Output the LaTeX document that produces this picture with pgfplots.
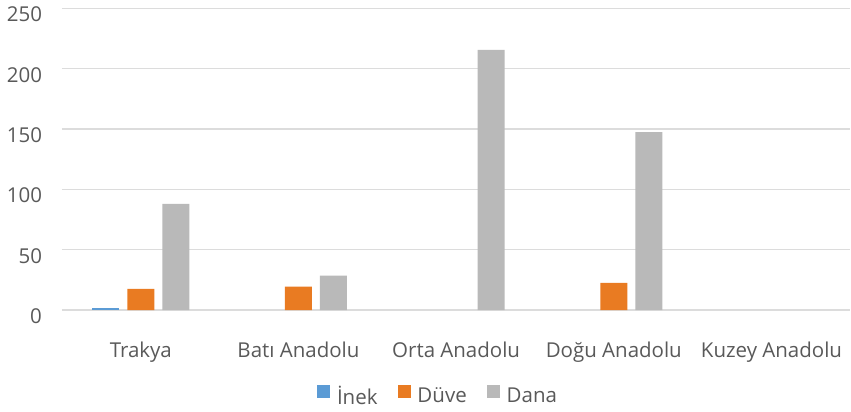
\documentclass[border=0pt]{standalone}
\usepackage{fontspec}
\setmainfont{Open Sans}
\usepackage{pgfplots}
\pgfplotsset{compat=1.18}
\definecolor{inek}{HTML}{5B9BD5}
\definecolor{duve}{HTML}{E97B22}
\definecolor{dana}{HTML}{B9B9B9}
\definecolor{txt}{HTML}{595959}
\definecolor{grd}{HTML}{DCDCDC}
\begin{document}
\fontsize{20.5pt}{24pt}\selectfont
\begin{tikzpicture}
\begin{axis}[
  scale only axis,
  width=789pt, height=302pt,
  ybar=8pt, bar width=27pt,
  xmin=-0.5, xmax=4.5,
  ymin=0, ymax=250,
  ytick={0,50,100,150,200,250},
  xtick={0,1,2,3,4},
  xticklabels={Trakya, Batı Anadolu, Orta Anadolu, Doğu Anadolu, Kuzey Anadolu},
  ymajorgrids, grid style={grd, line width=1.4pt},
  axis line style={draw=none},
  major tick length=0pt,
  tick label style={text=txt, font=\fontsize{20.5pt}{24pt}\selectfont},
  /pgf/number format/assume math mode=true,
  yticklabel style={xshift=-13pt, yshift=-6pt},
  xticklabel style={yshift=-25pt},
  legend style={at={(0.477,-0.288)}, anchor=center, draw=none, legend columns=3,
    font=\fontsize{20.5pt}{24pt}\selectfont, text=txt,
    /tikz/every odd column/.append style={column sep=5pt},
    /tikz/every even column/.append style={column sep=18pt}},
  legend image code/.code={\fill[#1] (0pt,-1pt) rectangle (13pt,12pt);},
]
\addplot[fill=inek, draw=none] coordinates {(0,2)};
\addplot[fill=duve, draw=none] coordinates {(0,17.5) (1,19.5) (3,22.5)};
\addplot[fill=dana, draw=none] coordinates {(0,88) (1,28.5) (2,215.5) (3,147.5)};
\legend{İnek, Düve, Dana}
\end{axis}
\path ([yshift=6pt]current axis.north);
\end{tikzpicture}
\end{document}
